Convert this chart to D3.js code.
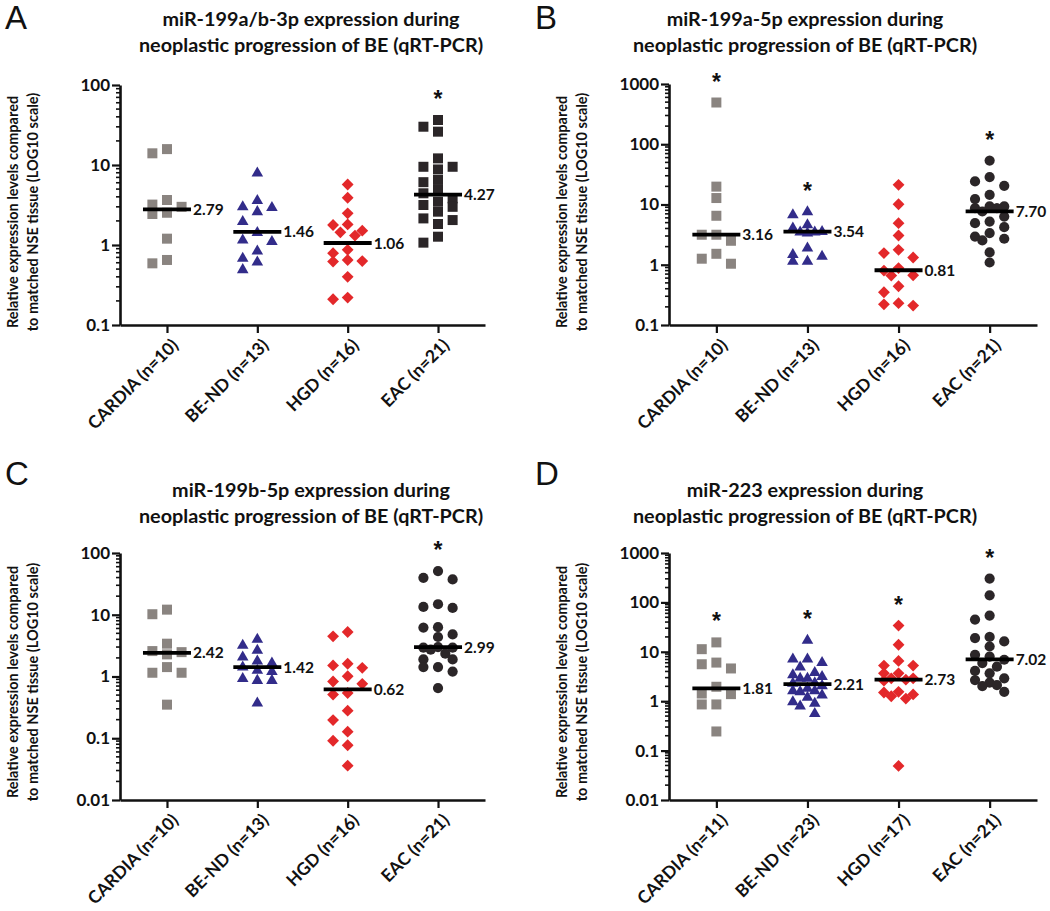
<!DOCTYPE html>
<html>
<head>
<meta charset="utf-8">
<script src="https://cdn.jsdelivr.net/npm/d3@7/dist/d3.min.js"></script>
<style>
  html, body { margin: 0; padding: 0; background: #ffffff; }
  svg { display: block; }
  text { font-family: Lato, "Open Sans", sans-serif; fill: #111; }
</style>
</head>
<body>
<script>
// ---------------- DATA ----------------
const categoriesABC = ["CARDIA (n=10)", "BE-ND (n=13)", "HGD (n=16)", "EAC (n=21)"];
const categoriesD = ["CARDIA (n=11)", "BE-ND (n=23)", "HGD (n=17)", "EAC (n=21)"];

const titlesA = ["miR-199a/b-3p expression during", "neoplastic progression of BE (qRT-PCR)"];
const titlesB = ["miR-199a-5p expression during", "neoplastic progression of BE (qRT-PCR)"];
const titlesC = ["miR-199b-5p expression during", "neoplastic progression of BE (qRT-PCR)"];
const titlesD = ["miR-223 expression during", "neoplastic progression of BE (qRT-PCR)"];

const yLabelLines = ["Relative expression levels compared", "to matched NSE tissue (LOG10 scale)"];

const ticksA = [0.1, 1, 10, 100];
const ticksB = [0.1, 1, 10, 100, 1000];
const ticksC = [0.01, 0.1, 1, 10, 100];
const ticksD = [0.01, 0.1, 1, 10, 100, 1000];
const tickLabelsA = ["0.1", "1", "10", "100"];
const tickLabelsB = ["0.1", "1", "10", "100", "1000"];
const tickLabelsC = ["0.01", "0.1", "1", "10", "100"];
const tickLabelsD = ["0.01", "0.1", "1", "10", "100", "1000"];

// Panel A
const aCardia = [15.8, 14.0, 3.65, 3.0, 3.2, 2.44, 2.53, 1.2, 0.59, 0.65];
const aBeNd = [7.9, 3.58, 2.93, 3.0, 2.6, 1.96, 1.43, 1.1, 1.15, 0.84, 0.68, 0.61, 0.49];
const aHgd = [5.7, 3.9, 2.49, 1.78, 1.81, 1.44, 1.51, 1.31, 0.87, 0.79, 0.65, 0.62, 0.63, 0.40, 0.21, 0.22];
const aEac = [36.5, 30.1, 26.1, 12.1, 9.5, 9.5, 8.8, 6.5, 6.1, 4.87, 4.43, 3.83, 3.48, 3.16, 3.0, 2.61, 2.05, 2.15, 1.83, 1.27, 1.07];
const mediansA = [2.79, 1.46, 1.06, 4.27];
const medianLabelsA = ["2.79", "1.46", "1.06", "4.27"];
const starsA = [false, false, false, true];

// Panel B
const bCardia = [493, 19.8, 12.8, 6.5, 3.15, 3.15, 2.5, 1.52, 1.26, 1.04];
const bBeNd = [7.5, 6.7, 4.6, 4.06, 3.54, 3.48, 3.48, 3.35, 1.89, 1.47, 1.37, 1.14, 1.14];
const bHgd = [21.2, 10.1, 4.9, 3.06, 1.77, 1.56, 1.32, 0.88, 0.80, 0.66, 0.67, 0.44, 0.35, 0.23, 0.21, 0.22];
const bEac = [53.7, 28.5, 24.1, 20.4, 14.5, 12.3, 9.3, 9.3, 8.7, 8.7, 7.65, 6.3, 5.2, 4.9, 4.2, 3.36, 2.94, 2.7, 2.53, 1.6, 1.09];
const mediansB = [3.16, 3.54, 0.81, 7.70];
const medianLabelsB = ["3.16", "3.54", "0.81", "7.70"];
const starsB = [true, true, false, true];

// Panel C
const cCardia = [12.1, 10.2, 3.4, 2.58, 2.28, 2.48, 1.42, 1.15, 1.15, 0.35];
const cBeNd = [4.0, 3.19, 2.65, 2.06, 1.77, 1.65, 1.42, 1.2, 1.25, 0.86, 0.86, 0.92, 0.37];
const cHgd = [5.25, 4.47, 1.61, 1.51, 1.38, 1.01, 0.83, 0.76, 0.54, 0.51, 0.28, 0.197, 0.128, 0.091, 0.077, 0.036];
const cEac = [51, 39.6, 37.3, 14.8, 13.4, 12.9, 6.3, 6.2, 4.8, 4.36, 2.99, 2.93, 2.93, 2.72, 2.34, 1.89, 1.89, 1.42, 1.42, 1.2, 0.65];
const mediansC = [2.42, 1.42, 0.62, 2.99];
const medianLabelsC = ["2.42", "1.42", "0.62", "2.99"];
const starsC = [false, false, false, true];

// Panel D
const dCardia = [15.5, 11.3, 6.05, 5.6, 4.6, 1.96, 1.39, 1.43, 0.86, 0.86, 0.244];
const dBeNd = [17, 7.1, 7.1, 6.05, 4.87, 3.78, 3.4, 3.14, 2.9, 2.9, 2.35, 2.3, 2.05, 1.82, 1.62, 1.62, 1.55, 1.33, 1.19, 0.97, 0.9, 0.79, 0.56];
const dHgd = [34, 13.9, 6.55, 5.26, 5.26, 3.67, 3.67, 2.9, 2.9, 2.73, 2.6, 1.55, 1.5, 1.37, 1.26, 1.13, 0.049];
const dEac = [304, 139, 54, 45, 20, 19, 16.2, 12.8, 8.7, 8.0, 6.9, 5.9, 5.0, 4.1, 3.67, 2.9, 2.68, 2.37, 2.12, 2.02, 1.55];
const mediansD = [1.81, 2.21, 2.73, 7.02];
const medianLabelsD = ["1.81", "2.21", "2.73", "7.02"];
const starsD = [true, true, true, true];

// ---------------- STYLE ----------------
const colors = ["#8a8480", "#322c8a", "#e3282a", "#2b2628"];

// ---------------- LAYOUT ----------------
const panels = [
  { letter: "A", letterX: 5, letterY: 29, titles: titlesA, titleX: 311, titleY: 26,
    axisX: 120, top: 85, bottom: 325, right: 485, domain: [0.1, 100],
    ticks: ticksA, tickLabels: tickLabelsA, cats: categoriesABC,
    values: [aCardia, aBeNd, aHgd, aEac], medians: mediansA, medianLabels: medianLabelsA, stars: starsA,
    shapes: ["square", "triangle", "diamond", "square"], yLabelCY: 212 },
  { letter: "B", letterX: 535, letterY: 29, titles: titlesB, titleX: 805, titleY: 26,
    axisX: 669, top: 84, bottom: 325, right: 1037, domain: [0.1, 1000],
    ticks: ticksB, tickLabels: tickLabelsB, cats: categoriesABC,
    values: [bCardia, bBeNd, bHgd, bEac], medians: mediansB, medianLabels: medianLabelsB, stars: starsB,
    shapes: ["square", "triangle", "diamond", "circle"], yLabelCY: 212 },
  { letter: "C", letterX: 5, letterY: 485, titles: titlesC, titleX: 311, titleY: 497,
    axisX: 120, top: 553, bottom: 800, right: 485, domain: [0.01, 100],
    ticks: ticksC, tickLabels: tickLabelsC, cats: categoriesABC,
    values: [cCardia, cBeNd, cHgd, cEac], medians: mediansC, medianLabels: medianLabelsC, stars: starsC,
    shapes: ["square", "triangle", "diamond", "circle"], yLabelCY: 682 },
  { letter: "D", letterX: 535, letterY: 485, titles: titlesD, titleX: 805, titleY: 497,
    axisX: 669, top: 553, bottom: 800, right: 1037, domain: [0.01, 1000],
    ticks: ticksD, tickLabels: tickLabelsD, cats: categoriesD,
    values: [dCardia, dBeNd, dHgd, dEac], medians: mediansD, medianLabels: medianLabelsD, stars: starsD,
    shapes: ["square", "triangle", "diamond", "circle"], yLabelCY: 682 }
];

const svg = d3.select("body").append("svg").attr("width", 1050).attr("height", 911);

const symbolGen = {
  square: d3.symbol().type(d3.symbolSquare).size(100),
  triangle: d3.symbol().type(d3.symbolTriangle).size(58),
  diamond: d3.symbol().type(d3.symbolSquare).size(70),
  circle: d3.symbol().type(d3.symbolCircle).size(82)
};

// deterministic Prism-like column spread, limited to +/- 2 half-symbol steps
function swarm(values, yScale, step, size) {
  const order = values.map((v, i) => ({ v, i, py: yScale(v) })).sort((a, b) => a.py - b.py);
  const placed = [];
  const cands = [0, -1, 1, -2, 2];
  for (const p of order) {
    let best = 0, bestCost = Infinity;
    for (const k of cands) {
      const dx = k * step;
      let cost = 0;
      for (const q of placed) {
        const ox = size - Math.abs(q.dx - dx), oy = size - Math.abs(q.py - p.py);
        if (ox > 0 && oy > 0) cost += ox * oy;
      }
      if (cost < bestCost - 1e-9) { bestCost = cost; best = dx; }
      if (cost === 0) break;
    }
    p.dx = best;
    placed.push(p);
  }
  return order;
}

panels.forEach(p => {
  const g = svg.append("g");
  const y = d3.scaleLog().domain(p.domain).range([p.bottom, p.top]);
  const x = d3.scalePoint().domain(p.cats).range([p.axisX, p.right]).padding(0.52);

  // panel letter
  g.append("text").attr("x", p.letterX).attr("y", p.letterY)
    .style("font-family", "'Liberation Sans', Arial, sans-serif")
    .style("font-size", "33px").text(p.letter);

  // title
  p.titles.forEach((t, i) => {
    g.append("text").attr("x", p.titleX).attr("y", p.titleY + i * 26)
      .attr("text-anchor", "middle").style("font-size", "19.8px").style("font-weight", "bold").text(t);
  });

  // y label
  yLabelLines.forEach((t, i) => {
    g.append("text")
      .attr("transform", `translate(${p.axisX - 102 + i * 20},${p.yLabelCY}) rotate(-90)`)
      .attr("text-anchor", "middle").style("font-size", "14.5px").style("font-weight", "bold").text(t);
  });

  // minor ticks
  const majors = new Set(p.ticks.map(t => +t.toPrecision(6)));
  const minors = y.ticks().filter(t => !majors.has(+t.toPrecision(6)));
  g.append("g").selectAll("line").data(minors).join("line")
    .attr("x1", p.axisX - 4).attr("x2", p.axisX)
    .attr("y1", d => y(d)).attr("y2", d => y(d))
    .attr("stroke", "#111").attr("stroke-width", 1.6);

  // y axis
  const yAxis = d3.axisLeft(y).tickValues(p.ticks)
    .tickFormat((d, i) => p.tickLabels[i]).tickSize(8).tickSizeOuter(0).tickPadding(2);
  const ya = g.append("g").attr("transform", `translate(${p.axisX},0)`).call(yAxis);
  ya.select(".domain").attr("stroke", "#111").attr("stroke-width", 2.6);
  ya.selectAll(".tick line").attr("stroke", "#111").attr("stroke-width", 2.2);
  ya.selectAll(".tick text").style("font-family", "Lato, sans-serif").style("font-size", "17px")
    .style("font-weight", "bold").attr("fill", "#111");

  // x axis
  const xAxis = d3.axisBottom(x).tickSize(8).tickSizeOuter(0).tickFormat("");
  const xa = g.append("g").attr("transform", `translate(0,${p.bottom})`).call(xAxis);
  xa.select(".domain").attr("stroke", "#111").attr("stroke-width", 2.6);
  xa.selectAll(".tick line").attr("stroke", "#111").attr("stroke-width", 2.2);

  g.append("g").selectAll("text").data(p.cats).join("text")
    .attr("transform", d => `translate(${x(d) + 8},${p.bottom + 17}) rotate(-45)`)
    .attr("text-anchor", "end").attr("dy", "0.35em")
    .style("font-size", "17.5px").style("font-weight", "bold").text(d => d);

  // points
  p.cats.forEach((c, ci) => {
    const pts = swarm(p.values[ci], y, 7.3, 10);
    const shape = p.shapes[ci];
    g.append("g").selectAll("path").data(pts).join("path")
      .attr("d", symbolGen[shape]())
      .attr("transform", d => `translate(${x(c) + d.dx},${d.py})` + (shape === "diamond" ? " rotate(45)" : ""))
      .attr("fill", colors[ci]);

    // median line
    const my = y(p.medians[ci]);
    g.append("line").attr("x1", x(c) - 24).attr("x2", x(c) + 24).attr("y1", my).attr("y2", my)
      .attr("stroke", "#000").attr("stroke-width", 3.8);
    g.append("text").attr("x", x(c) + 26).attr("y", my).attr("dy", "0.36em")
      .style("font-size", "15.5px").style("font-weight", "bold").text(p.medianLabels[ci]);

    if (p.stars[ci]) {
      const ytop = y(d3.max(p.values[ci]));
      g.append("text").attr("x", x(c)).attr("y", ytop - 26 + 13).attr("text-anchor", "middle")
        .style("font-family", "'Liberation Sans', Arial, sans-serif")
        .style("font-size", "23px").style("font-weight", "bold").text("*");
    }
  });
});
</script>
</body>
</html>
